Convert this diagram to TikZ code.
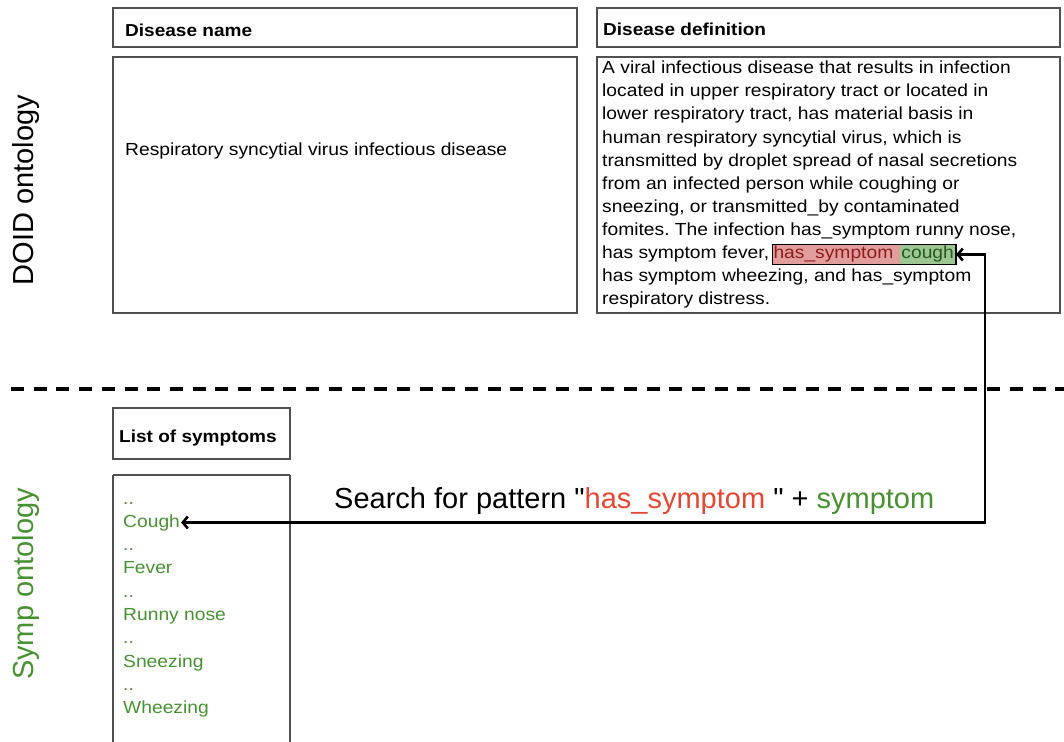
\documentclass[tikz,border=0pt]{standalone}
\usepackage{fontspec}
\setmainfont{Liberation Sans}[Ligatures=TeXOff]
\newfontfamily\widesans{Liberation Sans}[Ligatures=TeXOff,FakeStretch=1.1]
\usetikzlibrary{arrows.meta}
\definecolor{boxline}{RGB}{80,80,80}
\definecolor{symgreen}{RGB}{72,145,50}
\definecolor{patred}{RGB}{228,72,52}
\definecolor{hlred}{RGB}{226,158,155}
\definecolor{hlgreen}{RGB}{158,198,146}
\definecolor{hlredtext}{RGB}{140,30,30}
\definecolor{hlgreentext}{RGB}{35,90,30}
\frenchspacing
\begin{document}
\begin{tikzpicture}[x=1pt,y=-1pt,
  panel/.style={draw=boxline,line width=1.3pt},
  headtext/.style={anchor=base west,inner sep=0pt,font=\widesans\fontsize{17.3}{20}\selectfont\bfseries},
  bodytext/.style={anchor=base west,inner sep=0pt,font=\widesans\fontsize{17.5}{20}\selectfont},
  listitem/.style={bodytext,text=symgreen},
  sidelabel/.style={anchor=base,rotate=90,inner sep=0pt,font=\fontsize{29}{32}\selectfont},
  hlbox/.style={anchor=base west,inner xsep=1pt,inner ysep=1pt,text height=12pt,text depth=5pt,
    font=\widesans\fontsize{17.5}{20}\selectfont},
  link/.style={line width=2.6pt,{Straight Barb[length=5pt,width=12pt]}-{Straight Barb[length=5pt,width=12pt]}}
]
\useasboundingbox (0,0) rectangle (1064,741);

% side labels
\node[sidelabel] (doid) at (33,190) {DOID ontology};
\node[sidelabel,text=symgreen] (symp) at (33,584) {Symp ontology};

% DOID panels
\draw[panel] (113,8) rectangle (577,47);
\draw[panel] (113,57) rectangle (577,313);
\draw[panel] (597,8) rectangle (1060,47);
\draw[panel] (597,57) rectangle (1060,313);
\node[headtext] (hname) at (125,37) {Disease name};
\node[headtext] (hdef) at (603,36) {Disease definition};
\node[bodytext] (name) at (125,155) {Respiratory syncytial virus infectious disease};

% definition text, one node per line
\node[bodytext] (d1) at (602,74) {A viral infectious disease that results in infection};
\node[bodytext] (d2) at (602,97) {located in upper respiratory tract or located in};
\node[bodytext] (d3) at (602,120) {lower respiratory tract, has material basis in};
\node[bodytext] (d4) at (602,143) {human respiratory syncytial virus, which is};
\node[bodytext] (d5) at (602,166) {transmitted by droplet spread of nasal secretions};
\node[bodytext] (d6) at (602,189) {from an infected person while coughing or};
\node[bodytext] (d7) at (602,212) {sneezing, or transmitted\_by contaminated};
\node[bodytext] (d8) at (602,235) {fomites. The infection has\_symptom runny nose,};
\node[bodytext] (d9) at (602,258) {has symptom fever,};
\node[bodytext] (d10) at (602,281) {has symptom wheezing, and has\_symptom};
\node[bodytext] (d11) at (602,304) {respiratory distress.};

% highlighted match
\node[hlbox,fill=hlred,text=hlredtext] (hsred) at ([xshift=3pt]d9.base east) {has\_symptom\kern6pt};
\node[hlbox,fill=hlgreen,text=hlgreentext,xshift=-0.3pt] (hsgreen) at (hsred.base east) {cough\kern1pt};
\draw[line width=1.2pt] (hsred.north west) rectangle (hsgreen.south east);

% section separator
\draw[line width=3.4pt,dash pattern=on 13pt off 9.7pt] (11,389) -- (1064,389);

% symptom list
\draw[panel] (113,408) rectangle (290,459);
\draw[panel] (113,475) -- (113,745) (290,475) -- (290,745) (113,475) -- (290,475);
\node[headtext] (hlist) at (119,442) {List of symptoms};
\node[listitem] (s0) at (123,504) {..};
\node[listitem] (cough) at (123,527) {Cough};
\node[listitem] (s1) at (123,550) {..};
\node[listitem] (fever) at (123,573) {Fever};
\node[listitem] (s2) at (123,597) {..};
\node[listitem] (runny) at (123,620) {Runny nose};
\node[listitem] (s3) at (123,643) {..};
\node[listitem] (sneeze) at (123,667) {Sneezing};
\node[listitem] (s4) at (123,690) {..};
\node[listitem] (wheeze) at (123,713) {Wheezing};

% search pattern connector
\draw[link] (hsgreen.east) -- ++(29,0) |- ([xshift=1pt]cough.east);
\node[anchor=base west,inner sep=0pt,font=\fontsize{29}{32}\selectfont] (search) at (334,508)
  {Search for pattern "\textcolor{patred}{has\_symptom} " + \textcolor{symgreen}{symptom}};
\end{tikzpicture}
\end{document}
